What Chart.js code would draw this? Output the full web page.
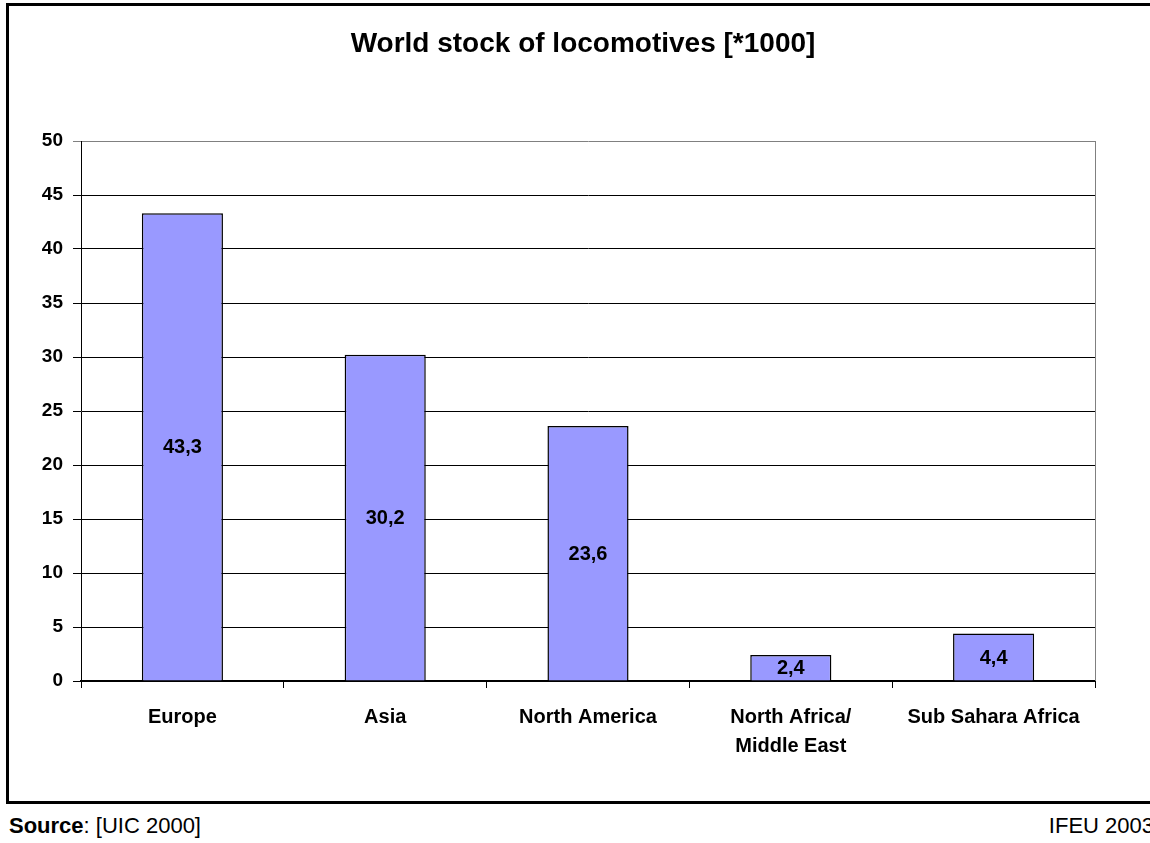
<!DOCTYPE html>
<html>
<head>
    <title>World stock of locomotives</title>
    <meta charset="UTF-8">
    <style>
        body {
            margin: 0;
            width: 1150px;
            height: 843px;
            position: relative;
            background: #fff;
            font-family: "Liberation Sans", Arial, sans-serif;
            overflow: hidden;
        }
        .frame {
            position: absolute;
            left: 6px;
            top: 3px;
            width: 1160px;
            height: 801px;
            border-left: 3px solid #000;
            border-top: 3px solid #000;
            border-bottom: 3px solid #000;
            box-sizing: border-box;
        }
        .chart-box {
            position: absolute;
            left: 0;
            top: 0;
            width: 1150px;
            height: 798px;
        }
        .main-title {
            position: absolute;
            left: 0;
            width: 1166px;
            top: 29px;
            margin: 0;
            text-align: center;
            font-size: 28px;
            line-height: 28px;
            font-weight: bold;
            color: #000;
        }
        .footer {
            position: absolute;
            top: 813px;
            font-size: 22px;
            color: #000;
            white-space: nowrap;
        }
        .footer.left { left: 9px; }
        .footer.right { right: -4px; }
    </style>
    <script src="https://cdn.jsdelivr.net/npm/chart.js"></script>
</head>
<body>

<div class="frame"></div>
<div class="chart-box">
    <canvas id="myChart" width="1150" height="798"></canvas>
</div>
<h1 class="main-title">World stock of locomotives [*1000]</h1>
<div class="footer left"><b>Source</b>: [UIC 2000]</div>
<div class="footer right">IFEU 2003</div>

<script>
    const regions = ['Europe', 'Asia', 'North America', ['North Africa/', 'Middle East'], 'Sub Sahara Africa'];
    const stock = [43.3, 30.2, 23.6, 2.4, 4.4];
    const yTicks = [0, 5, 10, 15, 20, 25, 30, 35, 40, 45, 50];

    const FONT = '"Liberation Sans", Arial, sans-serif';

    // writes the value in the middle of each bar, with a decimal comma
    const barValues = {
        id: 'barValues',
        afterDatasetsDraw(chart) {
            const ctx = chart.ctx;
            const meta = chart.getDatasetMeta(0);
            ctx.save();
            ctx.font = 'bold 20px ' + FONT;
            ctx.fillStyle = '#000';
            ctx.textAlign = 'center';
            ctx.textBaseline = 'middle';
            meta.data.forEach((bar, i) => {
                const mid = (bar.y + bar.base) / 2;
                ctx.fillText(stock[i].toFixed(1).replace('.', ','), bar.x, mid + 1);
            });
            ctx.restore();
        }
    };

    // grey right edge of the plot area
    const plotEdge = {
        id: 'plotEdge',
        afterDraw(chart) {
            const a = chart.chartArea;
            const ctx = chart.ctx;
            ctx.save();
            ctx.strokeStyle = '#808080';
            ctx.lineWidth = 1;
            ctx.beginPath();
            ctx.moveTo(a.right + 0.5, a.top);
            ctx.lineTo(a.right + 0.5, a.bottom);
            ctx.stroke();
            ctx.restore();
        }
    };

    new Chart(document.getElementById('myChart'), {
        type: 'bar',
        data: {
            labels: regions,
            datasets: [{
                data: stock,
                backgroundColor: '#9999FF',
                borderColor: '#000',
                borderWidth: 1.5,
                categoryPercentage: 1,
                barPercentage: 0.4
            }]
        },
        options: {
            responsive: false,
            animation: false,
            layout: {
                padding: { left: 0, right: 55, top: 141, bottom: 0 }
            },
            plugins: {
                legend: { display: false },
                tooltip: { enabled: false },
                title: { display: false }
            },
            scales: {
                x: {
                    afterFit(axis) { axis.height = 117; },
                    grid: {
                        offset: true,
                        drawOnChartArea: false,
                        drawTicks: true,
                        tickLength: 7,
                        color: '#000'
                    },
                    border: { color: '#000', width: 2 },
                    ticks: {
                        color: '#000',
                        padding: 15,
                        maxRotation: 0,
                        font: { family: FONT, size: 20, weight: 'bold', lineHeight: 1.45 }
                    }
                },
                y: {
                    min: 0,
                    max: 50,
                    afterFit(axis) { axis.width = 81; },
                    afterBuildTicks(axis) { axis.ticks = yTicks.map(v => ({ value: v })); },
                    grid: {
                        color: ctx => ctx.tick && ctx.tick.value === 50 ? '#808080' : '#000',
                        lineWidth: 1,
                        tickLength: 8
                    },
                    border: { color: '#000', width: 1 },
                    ticks: {
                        color: '#000',
                        padding: 10,
                        font: { family: FONT, size: 19, weight: 'bold' }
                    }
                }
            }
        },
        plugins: [barValues, plotEdge]
    });
</script>
</body>
</html>
